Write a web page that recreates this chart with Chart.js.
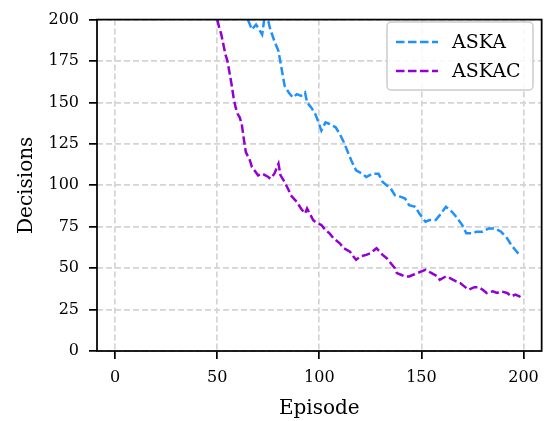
<!DOCTYPE html>
<html>
<head>
<meta charset="utf-8">
<script src="https://cdn.jsdelivr.net/npm/chart.js@4.4.0/dist/chart.umd.min.js"></script>
<style>
  html, body { margin: 0; padding: 0; background: #ffffff; }
  #wrap { width: 548px; height: 421px; }
</style>
</head>
<body>
<div id="wrap"><canvas id="chart" width="548" height="421"></canvas></div>
<script>
// Decisions needed per episode for the two agents
const episodesAska = [65, 67, 69, 71, 72, 73, 75, 76, 78, 80, 81, 82, 83, 85, 87, 89, 91, 93, 94, 96, 98, 99,
  101, 103, 105, 108, 110, 112, 114, 116, 118, 121, 123, 126, 129, 131, 135, 137, 140, 142, 144, 147, 149,
  152, 154, 157, 159, 162, 165, 167, 170, 172, 175, 177, 180, 183, 186, 189, 192, 194, 196, 198];
const decisionsAska = [200, 194, 197, 193, 191, 200, 199, 194, 187, 181, 174, 167, 160, 156, 153, 155, 154, 156, 150, 147, 143, 140,
  133, 138, 137, 135, 131, 126, 120, 114, 109, 107, 105, 107, 107, 102, 98, 94, 93, 92, 88, 87, 83,
  78, 79, 79, 82, 87, 84, 81, 76, 71, 71, 72, 72, 74, 74, 72, 68, 64, 61, 58];

const episodesAskac = [50, 51, 52, 53, 54, 55, 56, 57, 58, 59, 60, 61, 62, 63, 64, 66, 67, 70, 72, 75, 76, 78,
  80, 81, 83, 85, 86, 89, 91, 93, 94, 97, 98, 101, 103, 105, 107, 110, 112, 115, 116, 118, 120, 123, 125,
  128, 131, 133, 135, 137, 138, 140, 142, 144, 146, 148, 150, 152, 155, 158, 159, 162, 164, 167, 169, 171,
  173, 176, 178, 180, 182, 185, 187, 189, 192, 194, 196, 198, 199];
const decisionsAskac = [200, 195, 191, 185, 179, 175, 168, 161, 153, 147, 143, 141, 137, 128, 120, 115, 111, 106, 107, 105, 104, 107,
  113, 106, 102, 97, 94, 90, 86, 83, 86, 79, 78, 76, 73, 71, 68, 65, 62, 60, 58, 55, 57, 58, 59,
  62, 58, 56, 53, 50, 47, 46, 45, 45, 46, 47, 48, 49, 47, 45, 43, 45, 44, 42, 41, 39,
  37, 38.5, 38.5, 37, 35, 36, 35, 36, 35, 33, 34, 33, 32];

const xTicks = [0, 50, 100, 150, 200];
const yTicks = [0, 25, 50, 75, 100, 125, 150, 175, 200];

const seriesNames = ['ASKA', 'ASKAC'];
const seriesColors = ['#1e90ff', '#9400d3'];

const FONT = "'DejaVu Serif', serif";

function toPoints(xs, ys) {
  return xs.map((x, i) => ({ x: x, y: ys[i] }));
}

// Black frame around the plotting area
const framePlugin = {
  id: 'frame',
  afterDatasetsDraw(chart) {
    const { ctx, chartArea: a } = chart;
    ctx.save();
    ctx.strokeStyle = '#000000';
    ctx.lineWidth = 1.75;
    ctx.setLineDash([]);
    ctx.strokeRect(a.left, a.top, a.right - a.left, a.bottom - a.top);
    ctx.restore();
  }
};

// Boxed legend in the upper right corner
const boxLegendPlugin = {
  id: 'boxLegend',
  afterDraw(chart) {
    const { ctx } = chart;
    const x = 387, y = 22, w = 146, h = 68, r = 4;
    ctx.save();
    ctx.beginPath();
    ctx.roundRect(x, y, w, h, r);
    ctx.fillStyle = 'rgba(255,255,255,0.85)';
    ctx.fill();
    ctx.strokeStyle = '#cccccc';
    ctx.lineWidth = 1.5;
    ctx.stroke();
    chart.data.datasets.forEach((ds, i) => {
      const ly = 42 + i * 29;
      ctx.beginPath();
      ctx.setLineDash(ds.borderDash);
      ctx.strokeStyle = ds.borderColor;
      ctx.lineWidth = ds.borderWidth;
      ctx.moveTo(396, ly);
      ctx.lineTo(438, ly);
      ctx.stroke();
      ctx.setLineDash([]);
      ctx.fillStyle = '#000000';
      ctx.font = "19px " + FONT;
      ctx.textBaseline = 'middle';
      ctx.textAlign = 'left';
      ctx.fillText(ds.label, 452, ly + 1);
    });
    ctx.restore();
  }
};

const lineDataset = (label, color, pts) => ({
  label: label,
  data: pts,
  borderColor: color,
  backgroundColor: color,
  borderWidth: 2.5,
  borderDash: [8.5, 3.5],
  pointRadius: 0,
  fill: false,
  tension: 0
});

new Chart(document.getElementById('chart'), {
  type: 'line',
  data: {
    datasets: [
      lineDataset(seriesNames[0], seriesColors[0], toPoints(episodesAska, decisionsAska)),
      lineDataset(seriesNames[1], seriesColors[1], toPoints(episodesAskac, decisionsAskac))
    ]
  },
  options: {
    responsive: false,
    animation: false,
    devicePixelRatio: 1,
    layout: { padding: { top: 15, right: 6, left: 0, bottom: 0 } },
    plugins: { legend: { display: false }, tooltip: { enabled: false } },
    scales: {
      x: {
        type: 'linear',
        min: -8.9,
        max: 208.9,
        afterFit(scale) { scale.height = 70; },
        afterBuildTicks(scale) { scale.ticks = xTicks.map(v => ({ value: v })); },
        ticks: { color: '#000000', font: { family: FONT, size: 16 }, padding: 9, maxRotation: 0 },
        grid: { color: '#d4d4d4', lineWidth: 1.7, tickLength: 8, tickColor: '#000000', tickWidth: 1.75 },
        border: { display: false, dash: [6, 3] },
        title: { display: true, text: 'Episode', color: '#000000', font: { family: FONT, size: 20 }, padding: { top: 0, bottom: 0 } }
      },
      y: {
        type: 'linear',
        min: 0,
        max: 200,
        afterFit(scale) { scale.width = 97; },
        afterBuildTicks(scale) { scale.ticks = yTicks.map(v => ({ value: v })); },
        ticks: { color: '#000000', font: { family: FONT, size: 16 }, padding: 10 },
        grid: { color: '#d4d4d4', lineWidth: 1.7, tickLength: 8, tickColor: '#000000', tickWidth: 1.75 },
        border: { display: false, dash: [6, 3] },
        title: { display: true, text: 'Decisions', color: '#000000', font: { family: FONT, size: 20 }, padding: { top: 15, bottom: 0 } }
      }
    }
  },
  plugins: [framePlugin, boxLegendPlugin]
});
</script>
</body>
</html>
